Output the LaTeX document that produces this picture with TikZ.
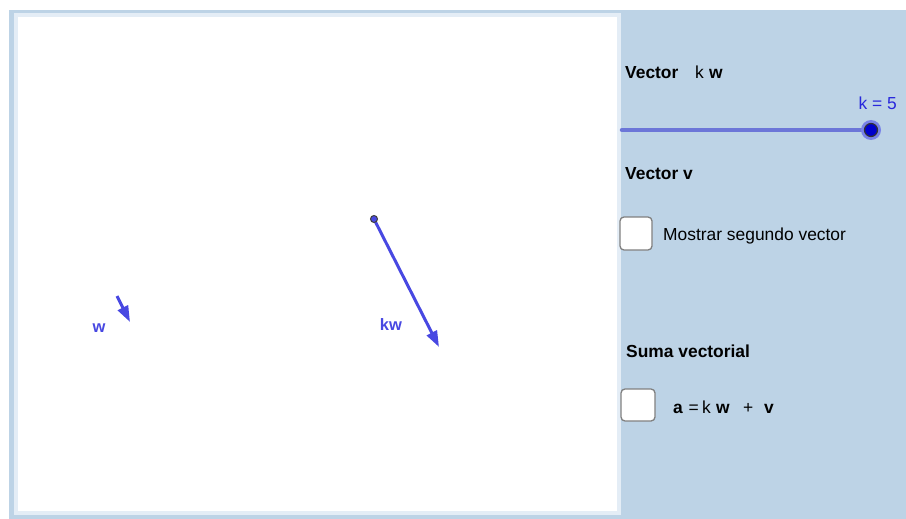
\documentclass[tikz,border=0pt]{standalone}
\usepackage{fontspec}
\setmainfont{Liberation Sans}
\usetikzlibrary{arrows.meta}
\definecolor{panelblue}{RGB}{189,211,230}
\definecolor{edgeblue}{RGB}{228,237,246}
\definecolor{vecblue}{RGB}{72,72,226}
\definecolor{slideblue}{RGB}{108,118,216}
\definecolor{knobblue}{RGB}{0,0,204}
\definecolor{halo}{RGB}{120,130,232}
\definecolor{boxgray}{RGB}{128,128,128}
\definecolor{labblue}{RGB}{40,40,220}
\tikzset{
  txt/.style={anchor=base west, inner sep=0pt, font=\fontsize{17.4}{20}\selectfont},
  btxt/.style={txt, font=\fontsize{17.4}{20}\selectfont\bfseries},
  vec/.style={vecblue, line width=3pt, -{Triangle[length=16pt,width=11pt]}},
  veclab/.style={anchor=base, inner sep=0pt, text=vecblue, font=\fontsize{16.5}{19}\selectfont\bfseries},
  chk/.style={draw=boxgray, fill=white, line width=1.3pt, rounded corners=4pt}
}
\begin{document}
\begin{tikzpicture}[x=1pt,y=-1pt]
\useasboundingbox (0,0) rectangle (906,519);
\fill[white] (0,0) rectangle (906,519);
\fill[panelblue] (9,10) rectangle (906,519);
\fill[edgeblue] (14,13) rectangle (621,515);
\fill[white] (18,17) rectangle (617,511);

% vectors
\coordinate (w0) at (117,296);
\coordinate (w1) at (130,322);
\draw[vec] (w0) -- (w1);
\node[veclab] (wl) at (99,332) {w};

\coordinate (k0) at (374,219);
\coordinate (k1) at (439,347);
\draw[vec] (k0) -- (k1);
\fill[vecblue, draw=black!75, line width=1pt] (k0) circle (3.5);
\node[veclab] (kl) at (391,330) {kw};

% right panel
\node[btxt] (t1) at (625,79) {Vector};
\node[txt] (t1k) at (695,79) {k};
\node[btxt] (t1w) at (709,79) {w};
\node[txt, anchor=base east, text=labblue] (kval) at (897,110) {k = 5};
\coordinate (s0) at (622,130);
\coordinate (s1) at (871,130);
\draw[slideblue, line width=4.5pt, line cap=round] (s0) -- (s1);
\fill[halo] (s1) circle (10);
\fill[knobblue, draw=black!80, line width=1.2pt] (s1) circle (6.5);

\node[btxt] (t2) at (625,179) {Vector v};
\draw[chk] (620,217) rectangle (652,250);
\node[txt] (t3) at (663,240) {Mostrar segundo vector};

\node[btxt] (t4) at (626,357) {Suma vectorial};
\draw[chk] (621,389) rectangle (655,421);
\node[btxt] (fa) at (673,413) {a};
\node[txt] (feq) at (688.5,413) {=};
\node[txt] (fk) at (702,413) {k};
\node[btxt] (fw) at (716,413) {w};
\node[txt] (fp) at (743,413) {+};
\node[btxt] (fv) at (764,413) {v};
\end{tikzpicture}
\end{document}
